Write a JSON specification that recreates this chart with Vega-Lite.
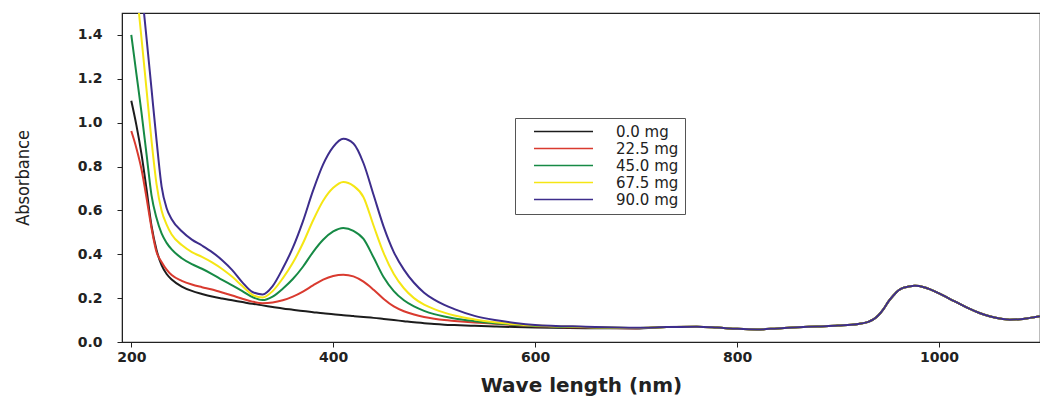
{
  "$schema": "https://vega.github.io/schema/vega-lite/v6.json",
  "width": 918,
  "height": 329,
  "autosize": {"type": "none"},
  "padding": {"left": 122, "top": 13, "right": 0, "bottom": 56},
  "background": "white",
  "config": {"view": {"stroke": "#222", "strokeWidth": 1.2}},
  "data": {"values": [
    {"wl": 200, "mg0": 1.10, "mg22": 0.962, "mg45": 1.40, "mg67": 1.85, "mg90": 2.10},
    {"wl": 205, "mg0": 0.99, "mg22": 0.885, "mg45": 1.225, "mg67": 1.62, "mg90": 1.85},
    {"wl": 210, "mg0": 0.86, "mg22": 0.79, "mg45": 1.05, "mg67": 1.39, "mg90": 1.62},
    {"wl": 215, "mg0": 0.70, "mg22": 0.66, "mg45": 0.86, "mg67": 1.155, "mg90": 1.39},
    {"wl": 220, "mg0": 0.53, "mg22": 0.52, "mg45": 0.67, "mg67": 0.92, "mg90": 1.155},
    {"wl": 225, "mg0": 0.42, "mg22": 0.41, "mg45": 0.565, "mg67": 0.72, "mg90": 0.92},
    {"wl": 230, "mg0": 0.35, "mg22": 0.365, "mg45": 0.495, "mg67": 0.6, "mg90": 0.71},
    {"wl": 235, "mg0": 0.31, "mg22": 0.33, "mg45": 0.452, "mg67": 0.535, "mg90": 0.61},
    {"wl": 240, "mg0": 0.285, "mg22": 0.305, "mg45": 0.422, "mg67": 0.49, "mg90": 0.56},
    {"wl": 250, "mg0": 0.253, "mg22": 0.279, "mg45": 0.382, "mg67": 0.442, "mg90": 0.505},
    {"wl": 260, "mg0": 0.233, "mg22": 0.262, "mg45": 0.355, "mg67": 0.41, "mg90": 0.467},
    {"wl": 270, "mg0": 0.219, "mg22": 0.25, "mg45": 0.334, "mg67": 0.388, "mg90": 0.44},
    {"wl": 280, "mg0": 0.207, "mg22": 0.239, "mg45": 0.31, "mg67": 0.363, "mg90": 0.41},
    {"wl": 290, "mg0": 0.198, "mg22": 0.226, "mg45": 0.283, "mg67": 0.333, "mg90": 0.373},
    {"wl": 300, "mg0": 0.19, "mg22": 0.212, "mg45": 0.258, "mg67": 0.297, "mg90": 0.328},
    {"wl": 310, "mg0": 0.182, "mg22": 0.197, "mg45": 0.232, "mg67": 0.255, "mg90": 0.272},
    {"wl": 320, "mg0": 0.174, "mg22": 0.184, "mg45": 0.205, "mg67": 0.215, "mg90": 0.228},
    {"wl": 330, "mg0": 0.167, "mg22": 0.177, "mg45": 0.191, "mg67": 0.203, "mg90": 0.217},
    {"wl": 340, "mg0": 0.16, "mg22": 0.18, "mg45": 0.207, "mg67": 0.232, "mg90": 0.255},
    {"wl": 350, "mg0": 0.153, "mg22": 0.19, "mg45": 0.243, "mg67": 0.29, "mg90": 0.335},
    {"wl": 360, "mg0": 0.147, "mg22": 0.207, "mg45": 0.287, "mg67": 0.361, "mg90": 0.43},
    {"wl": 370, "mg0": 0.141, "mg22": 0.23, "mg45": 0.343, "mg67": 0.45, "mg90": 0.55},
    {"wl": 380, "mg0": 0.136, "mg22": 0.258, "mg45": 0.41, "mg67": 0.554, "mg90": 0.69},
    {"wl": 390, "mg0": 0.131, "mg22": 0.284, "mg45": 0.466, "mg67": 0.644, "mg90": 0.81},
    {"wl": 400, "mg0": 0.127, "mg22": 0.301, "mg45": 0.504, "mg67": 0.703, "mg90": 0.89},
    {"wl": 410, "mg0": 0.122, "mg22": 0.307, "mg45": 0.52, "mg67": 0.73, "mg90": 0.927},
    {"wl": 420, "mg0": 0.118, "mg22": 0.299, "mg45": 0.507, "mg67": 0.712, "mg90": 0.905},
    {"wl": 430, "mg0": 0.114, "mg22": 0.275, "mg45": 0.47, "mg67": 0.66, "mg90": 0.815},
    {"wl": 440, "mg0": 0.11, "mg22": 0.238, "mg45": 0.385, "mg67": 0.53, "mg90": 0.67},
    {"wl": 450, "mg0": 0.105, "mg22": 0.196, "mg45": 0.295, "mg67": 0.405, "mg90": 0.525},
    {"wl": 460, "mg0": 0.1, "mg22": 0.162, "mg45": 0.232, "mg67": 0.31, "mg90": 0.41},
    {"wl": 470, "mg0": 0.095, "mg22": 0.14, "mg45": 0.19, "mg67": 0.245, "mg90": 0.33},
    {"wl": 480, "mg0": 0.09, "mg22": 0.125, "mg45": 0.162, "mg67": 0.2, "mg90": 0.27},
    {"wl": 490, "mg0": 0.086, "mg22": 0.114, "mg45": 0.142, "mg67": 0.17, "mg90": 0.225},
    {"wl": 500, "mg0": 0.082, "mg22": 0.106, "mg45": 0.127, "mg67": 0.15, "mg90": 0.193},
    {"wl": 510, "mg0": 0.079, "mg22": 0.1, "mg45": 0.116, "mg67": 0.134, "mg90": 0.169},
    {"wl": 520, "mg0": 0.077, "mg22": 0.096, "mg45": 0.107, "mg67": 0.121, "mg90": 0.15},
    {"wl": 540, "mg0": 0.074, "mg22": 0.089, "mg45": 0.095, "mg67": 0.103, "mg90": 0.119},
    {"wl": 560, "mg0": 0.071, "mg22": 0.083, "mg45": 0.086, "mg67": 0.09, "mg90": 0.1},
    {"wl": 580, "mg0": 0.068, "mg22": 0.077, "mg45": 0.079, "mg67": 0.081, "mg90": 0.087},
    {"wl": 600, "mg0": 0.066, "mg22": 0.072, "mg45": 0.073, "mg67": 0.075, "mg90": 0.078},
    {"wl": 650, "mg0": 0.063, "mg22": 0.066, "mg45": 0.067, "mg67": 0.068, "mg90": 0.07},
    {"wl": 700, "mg0": 0.062, "mg22": 0.063, "mg45": 0.064, "mg67": 0.064, "mg90": 0.065},
    {"wl": 730, "mg0": 0.068, "mg22": 0.068, "mg45": 0.068, "mg67": 0.068, "mg90": 0.068},
    {"wl": 760, "mg0": 0.07, "mg22": 0.07, "mg45": 0.07, "mg67": 0.07, "mg90": 0.07},
    {"wl": 780, "mg0": 0.066, "mg22": 0.066, "mg45": 0.066, "mg67": 0.066, "mg90": 0.066},
    {"wl": 800, "mg0": 0.06, "mg22": 0.06, "mg45": 0.06, "mg67": 0.06, "mg90": 0.06},
    {"wl": 820, "mg0": 0.057, "mg22": 0.057, "mg45": 0.057, "mg67": 0.057, "mg90": 0.057},
    {"wl": 840, "mg0": 0.062, "mg22": 0.062, "mg45": 0.062, "mg67": 0.062, "mg90": 0.062},
    {"wl": 860, "mg0": 0.067, "mg22": 0.067, "mg45": 0.067, "mg67": 0.067, "mg90": 0.067},
    {"wl": 880, "mg0": 0.071, "mg22": 0.071, "mg45": 0.071, "mg67": 0.071, "mg90": 0.071},
    {"wl": 900, "mg0": 0.075, "mg22": 0.075, "mg45": 0.075, "mg67": 0.075, "mg90": 0.075},
    {"wl": 920, "mg0": 0.082, "mg22": 0.082, "mg45": 0.082, "mg67": 0.082, "mg90": 0.082},
    {"wl": 930, "mg0": 0.092, "mg22": 0.092, "mg45": 0.092, "mg67": 0.092, "mg90": 0.092},
    {"wl": 935, "mg0": 0.103, "mg22": 0.103, "mg45": 0.103, "mg67": 0.103, "mg90": 0.103},
    {"wl": 940, "mg0": 0.122, "mg22": 0.122, "mg45": 0.122, "mg67": 0.122, "mg90": 0.122},
    {"wl": 945, "mg0": 0.15, "mg22": 0.15, "mg45": 0.15, "mg67": 0.15, "mg90": 0.15},
    {"wl": 950, "mg0": 0.185, "mg22": 0.185, "mg45": 0.185, "mg67": 0.185, "mg90": 0.185},
    {"wl": 955, "mg0": 0.213, "mg22": 0.213, "mg45": 0.213, "mg67": 0.213, "mg90": 0.213},
    {"wl": 960, "mg0": 0.236, "mg22": 0.236, "mg45": 0.236, "mg67": 0.236, "mg90": 0.236},
    {"wl": 965, "mg0": 0.248, "mg22": 0.248, "mg45": 0.248, "mg67": 0.248, "mg90": 0.248},
    {"wl": 970, "mg0": 0.253, "mg22": 0.253, "mg45": 0.253, "mg67": 0.253, "mg90": 0.253},
    {"wl": 976, "mg0": 0.256, "mg22": 0.256, "mg45": 0.256, "mg67": 0.256, "mg90": 0.256},
    {"wl": 985, "mg0": 0.25, "mg22": 0.25, "mg45": 0.25, "mg67": 0.25, "mg90": 0.25},
    {"wl": 990, "mg0": 0.242, "mg22": 0.242, "mg45": 0.242, "mg67": 0.242, "mg90": 0.242},
    {"wl": 1000, "mg0": 0.222, "mg22": 0.222, "mg45": 0.222, "mg67": 0.222, "mg90": 0.222},
    {"wl": 1010, "mg0": 0.198, "mg22": 0.198, "mg45": 0.198, "mg67": 0.198, "mg90": 0.198},
    {"wl": 1020, "mg0": 0.175, "mg22": 0.175, "mg45": 0.175, "mg67": 0.175, "mg90": 0.175},
    {"wl": 1030, "mg0": 0.152, "mg22": 0.152, "mg45": 0.152, "mg67": 0.152, "mg90": 0.152},
    {"wl": 1040, "mg0": 0.132, "mg22": 0.132, "mg45": 0.132, "mg67": 0.132, "mg90": 0.132},
    {"wl": 1050, "mg0": 0.117, "mg22": 0.117, "mg45": 0.117, "mg67": 0.117, "mg90": 0.117},
    {"wl": 1060, "mg0": 0.107, "mg22": 0.107, "mg45": 0.107, "mg67": 0.107, "mg90": 0.107},
    {"wl": 1070, "mg0": 0.102, "mg22": 0.102, "mg45": 0.102, "mg67": 0.102, "mg90": 0.102},
    {"wl": 1080, "mg0": 0.104, "mg22": 0.104, "mg45": 0.104, "mg67": 0.104, "mg90": 0.104},
    {"wl": 1090, "mg0": 0.11, "mg22": 0.11, "mg45": 0.11, "mg67": 0.11, "mg90": 0.11},
    {"wl": 1100, "mg0": 0.117, "mg22": 0.117, "mg45": 0.117, "mg67": 0.117, "mg90": 0.117}
  ]},
  "transform": [
    {"fold": ["mg0", "mg22", "mg45", "mg67", "mg90"], "as": ["series", "absorbance"]}
  ],
  "mark": {"type": "line", "clip": true, "interpolate": "monotone", "strokeWidth": 2},
  "encoding": {
    "x": {
      "field": "wl",
      "type": "quantitative",
      "scale": {"domain": [190.8, 1100], "nice": false, "zero": false},
      "axis": {
        "values": [200, 400, 600, 800, 1000],
        "format": "d",
        "grid": false,
        "domainColor": "#222",
        "tickColor": "#222",
        "tickSize": 5,
        "labelFont": "DejaVu Sans",
        "labelFontWeight": "bold",
        "labelFontSize": 14,
        "labelColor": "#222",
        "labelPadding": 3,
        "title": "Wave length (nm)",
        "titleFont": "DejaVu Sans",
        "titleFontWeight": "bold",
        "titleFontSize": 20,
        "titleColor": "#222",
        "titleX": 459,
        "titleY": 43,
        "titleBaseline": "middle"
      }
    },
    "y": {
      "field": "absorbance",
      "type": "quantitative",
      "scale": {"domain": [0, 1.5], "nice": false},
      "axis": {
        "values": [0, 0.2, 0.4, 0.6, 0.8, 1.0, 1.2, 1.4],
        "format": ".1f",
        "grid": false,
        "domainColor": "#222",
        "tickColor": "#222",
        "tickSize": 5,
        "labelFont": "DejaVu Sans",
        "labelFontWeight": "bold",
        "labelFontSize": 14,
        "labelColor": "#222",
        "labelPadding": 15,
        "title": "Absorbance",
        "titleFont": "DejaVu Sans Condensed, Roboto Condensed, Liberation Sans, sans-serif",
        "titleFontWeight": "normal",
        "titleFontSize": 18,
        "titleColor": "#222",
        "titleAngle": 270,
        "titleX": -99,
        "titleY": 164.5,
        "titleAlign": "center",
        "titleBaseline": "middle"
      }
    },
    "color": {
      "field": "series",
      "type": "nominal",
      "scale": {
        "domain": ["mg0", "mg22", "mg45", "mg67", "mg90"],
        "range": ["#1c1c1c", "#d93a2f", "#168a45", "#f5e614", "#3d2d8c"]
      },
      "legend": {
        "title": null,
        "orient": "none",
        "legendX": 393,
        "legendY": 105,
        "strokeColor": "#555",
        "fillColor": "white",
        "padding": 6,
        "clipHeight": 15,
        "symbolType": "stroke",
        "symbolSize": 3481,
        "symbolStrokeWidth": 1.5,
        "symbolOffset": 12,
        "labelFont": "DejaVu Sans",
        "labelFontSize": 15,
        "labelColor": "#222",
        "labelOffset": 22,
        "rowPadding": 1,
        "labelExpr": "datum.value == 'mg0' ? '0.0 mg' : datum.value == 'mg22' ? '22.5 mg' : datum.value == 'mg45' ? '45.0 mg' : datum.value == 'mg67' ? '67.5 mg' : '90.0 mg'"
      }
    }
  }
}
